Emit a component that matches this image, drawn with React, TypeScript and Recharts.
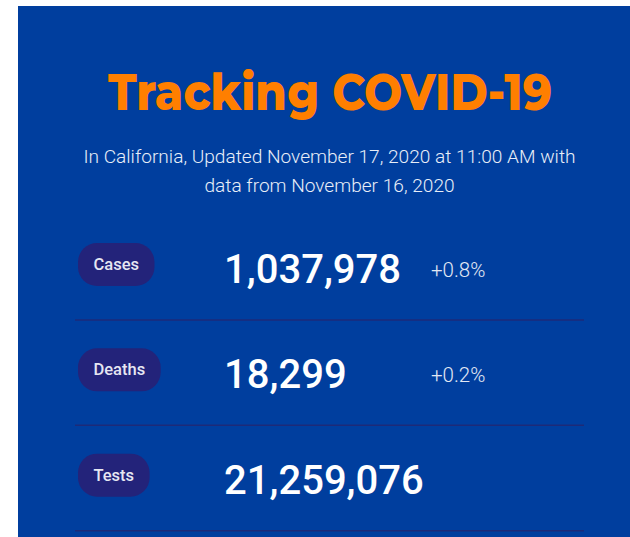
import React from 'react';
import { BarChart, Bar, XAxis, YAxis } from 'recharts';

const metrics = ['Cases', 'Deaths', 'Tests'];
const totals = [1037978, 18299, 21259076];
const dailyChange = ['+0.8%', '+0.2%', ''];

const TITLE = 'Tracking COVID-19';
const SUBTITLE_1 = 'In California, Updated November 17, 2020 at 11:00 AM with';
const SUBTITLE_2 = 'data from November 16, 2020';

const data = metrics.map((m, i) => ({ metric: m, total: totals[i], change: dailyChange[i] }));

const BG = '#003E9E';
const PILL = '#23237A';
const DIVIDER = '#1D2A78';

let ctx: CanvasRenderingContext2D | null = null;
function measure(text: string, font: string): number {
  if (!ctx) {
    const c = document.createElement('canvas');
    ctx = c.getContext('2d');
  }
  if (!ctx) return text.length * 8;
  ctx.font = font;
  return ctx.measureText(text).width;
}

function RowShape(props: any) {
  const { y, height, payload } = props;
  const top = y;
  const bottom = y + height;
  const pillW = measure(payload.metric, '500 16.5px Roboto') + 31;
  return (
    <g>
      <rect x={60} y={top + 27} width={pillW} height={43} rx={19} ry={19} fill={PILL} />
      <text
        x={60 + pillW / 2}
        y={top + 54}
        textAnchor="middle"
        fontFamily="Roboto"
        fontWeight={500}
        fontSize={16.5}
        fill="#E6E6F2"
      >
        {payload.metric}
      </text>
      <text x={206} y={top + 67} fontFamily="Roboto" fontWeight={500} fontSize={40} fill="#FFFFFF">
        {Number(payload.total).toLocaleString('en-US')}
      </text>
      {payload.change ? (
        <text x={413} y={top + 61} fontFamily="Roboto" fontWeight={300} fontSize={20.5} fill="#E2E8F4">
          {payload.change}
        </text>
      ) : null}
      <line x1={57} x2={566} y1={bottom - 1} y2={bottom - 1} stroke={DIVIDER} strokeWidth={1.5} />
    </g>
  );
}

export default function App() {
  return (
    <div style={{ position: 'absolute', left: 0, top: 0, width: 630, height: 537, background: '#FFFFFF', overflow: 'hidden' }}>
      <div style={{ position: 'absolute', left: 18, top: 6, width: 624, height: 531, background: BG }}>
        <svg width={624} height={210} style={{ position: 'absolute', left: 0, top: 0 }}>
          <text
            x={312}
            y={104}
            textAnchor="middle"
            fontFamily="Montserrat, 'Open Sans', sans-serif"
            fontWeight={800}
            fontSize={50}
            fill="#FF7F00"
            textLength={444}
            lengthAdjust="spacingAndGlyphs"
          >
            {TITLE}
          </text>
          <text x={311.5} y={156.5} textAnchor="middle" fontFamily="Roboto" fontWeight={300} fontSize={19.1} fill="#E8EEF8">
            {SUBTITLE_1}
          </text>
          <text x={311.5} y={186} textAnchor="middle" fontFamily="Roboto" fontWeight={300} fontSize={19.1} fill="#E8EEF8">
            {SUBTITLE_2}
          </text>
        </svg>
        <div style={{ position: 'absolute', left: 0, top: 210 }}>
          <BarChart
            width={624}
            height={316}
            data={data}
            layout="vertical"
            margin={{ top: 0, right: 0, bottom: 0, left: 0 }}
            barCategoryGap={0}
          >
            <XAxis type="number" hide domain={[0, 'dataMax']} />
            <YAxis type="category" dataKey="metric" hide />
            <Bar dataKey="total" isAnimationActive={false} shape={<RowShape />} />
          </BarChart>
        </div>
      </div>
    </div>
  );
}
